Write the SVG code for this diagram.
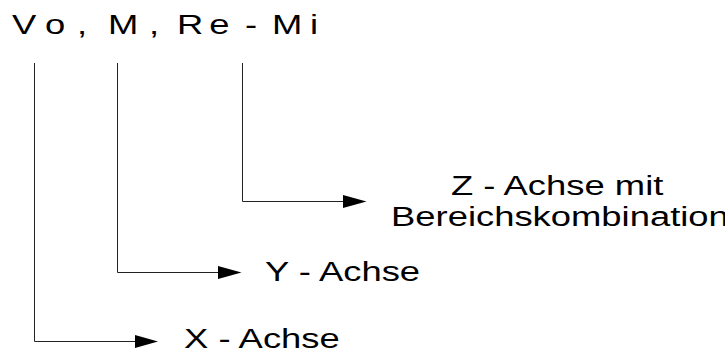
<svg xmlns="http://www.w3.org/2000/svg" width="725" height="351" viewBox="0 0 725 351">
<style>
text{font-family:"Liberation Sans",Arial,sans-serif;fill:#000}
.lbl{font-size:28px}
.ttl{font-size:28px}
.ln{fill:none;stroke:#222;stroke-width:1}
.ah{fill:#000}
</style>
<rect width="725" height="351" fill="#fff"/>
<g id="title">
<text class="ttl" transform="matrix(1.3,0,0,1,0,34)" x="9.2 34.6 59.2 83.1 114.6 136.2 161 188.5 209.2 238.5">Vo,M,Re-Mi</text>
</g>
<g id="connectors">
<path class="ln" d="M34.5,63 V341.5 H140"/>
<polygon class="ah" points="135,335 158,341.5 135,348"/>
<path class="ln" d="M117.5,63 V272.5 H222"/>
<polygon class="ah" points="218,266 241.5,272.5 218,279"/>
<path class="ln" d="M242.5,63 V201.5 H347"/>
<polygon class="ah" points="343,195 366.5,201.5 343,208"/>
</g>
<g id="x-label">
<text class="lbl" transform="matrix(1.3,0,0,1,184,348)">X - Achse</text>
</g>
<g id="y-label">
<text class="lbl" transform="matrix(1.3,0,0,1,265,281)">Y - Achse</text>
</g>
<g id="z-label">
<text class="lbl" transform="matrix(1.3,0,0,1,451,195)">Z - Achse mit</text>
<text class="lbl" transform="matrix(1.3,0,0,1,391,226)">Bereichskombination</text>
</g>
</svg>
